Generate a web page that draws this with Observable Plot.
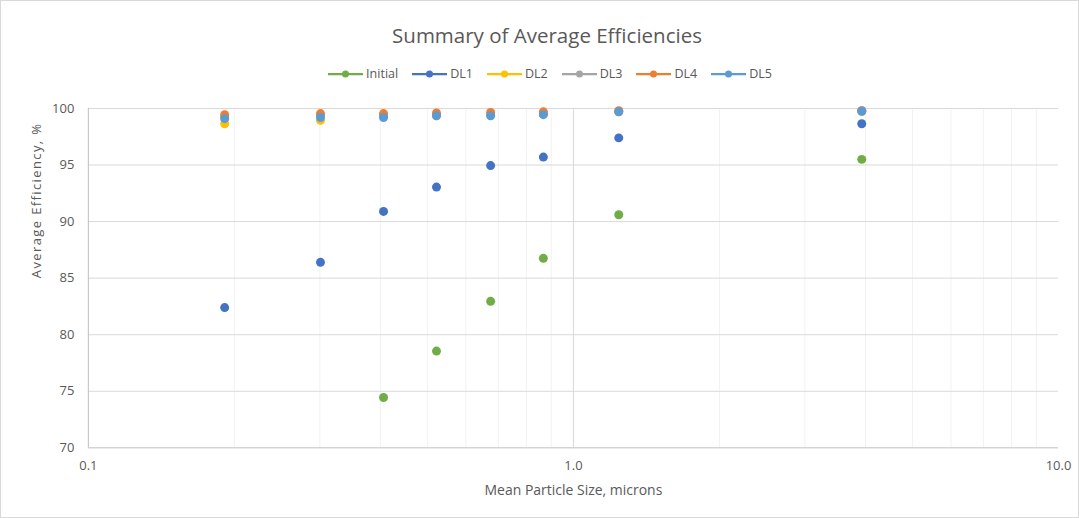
<!DOCTYPE html>
<html>
<head>
<meta charset="utf-8">
<script src="https://cdn.jsdelivr.net/npm/d3@7"></script>
<script src="https://cdn.jsdelivr.net/npm/@observablehq/plot@0.6"></script>
<style>
  html, body { margin: 0; padding: 0; background: #fff; }
  #chart { position: relative; width: 1077px; height: 516px; border: 1px solid #d9d9d9; font-family: "Open Sans", "Noto Sans", sans-serif; color: #595959; overflow: hidden; }
  #title { position: absolute; left: 0; width: 1092px; top: 20px; text-align: center; font-size: 20.5px; line-height: 28px; }
  #legend { position: absolute; left: 0; width: 1098px; top: 64px; display: flex; justify-content: center; gap: 14px; font-size: 12.5px; line-height: 18px; }
  #legend .item { display: flex; align-items: center; gap: 3px; }
  #plot { position: absolute; left: -1px; top: 90px; }
</style>
</head>
<body>
<div id="chart">
  <div id="title">Summary of Average Efficiencies</div>
  <div id="legend"></div>
  <div id="plot"></div>
</div>
<script>
const sizes   = [0.191, 0.301, 0.406, 0.522, 0.675, 0.867, 1.24, 3.93];
const initial = [null, null, 74.45, 78.55, 82.95, 86.75, 90.6, 95.5];
const dl1     = [82.4, 86.4, 90.9, 93.05, 94.95, 95.7, 97.4, 98.65];
const dl2     = [98.65, 98.95, 99.3, 99.35, 99.4, 99.5, 99.7, 99.75];
const dl3     = [99.3, 99.4, 99.4, 99.45, 99.5, 99.6, 99.75, 99.8];
const dl4     = [99.45, 99.55, 99.55, 99.6, 99.65, 99.7, 99.8, 99.8];
const dl5     = [99.1, 99.2, 99.2, 99.35, 99.35, 99.45, 99.7, 99.75];

const seriesNames  = ["Initial", "DL1", "DL2", "DL3", "DL4", "DL5"];
const seriesValues = [initial, dl1, dl2, dl3, dl4, dl5];
const seriesColors = ["#70AD47", "#4472C4", "#FFC000", "#A5A5A5", "#ED7D31", "#5B9BD5"];

const yTicks = [70, 75, 80, 85, 90, 95, 100];
const xTicks = [0.1, 1, 10];
const xMinor = [0.2, 0.3, 0.4, 0.5, 0.6, 0.7, 0.8, 0.9, 2, 3, 4, 5, 6, 7, 8, 9];

const yLabel = "Average Efficiency, %";
const xLabel = "Mean Particle Size, microns";

const data = [];
seriesNames.forEach((name, i) => {
  sizes.forEach((s, j) => {
    const v = seriesValues[i][j];
    if (v != null) data.push({series: name, x: s, y: v});
  });
});

// legend
const legend = document.getElementById("legend");
seriesNames.forEach((name, i) => {
  const item = document.createElement("div");
  item.className = "item";
  item.innerHTML = `<svg width="35" height="10"><line x1="0" y1="5" x2="35" y2="5" stroke="${seriesColors[i]}" stroke-width="2.25"/><circle cx="17.5" cy="5" r="3.5" fill="${seriesColors[i]}"/></svg><span>${name}</span>`;
  legend.appendChild(item);
});

const plot = Plot.plot({
  width: 1080,
  height: 425,
  marginLeft: 88,
  marginRight: 20,
  marginTop: 17,
  marginBottom: 68,
  style: { fontFamily: "'Open Sans', 'Noto Sans', sans-serif", fontSize: "13px", color: "#595959", background: "white" },
  x: { type: "log", domain: [0.1, 10], ticks: xTicks, tickFormat: d3.format(".1f"), tickSize: 0, tickPadding: 13, label: null },
  y: { domain: [70, 100], ticks: yTicks, tickSize: 0, tickPadding: 14, label: null },
  color: { domain: seriesNames, range: seriesColors },
  marks: [
    Plot.ruleX(xMinor, { stroke: "#f2f2f2", strokeWidth: 1 }),
    Plot.ruleY(yTicks.filter(d => d > 70), { stroke: "#d9d9d9", strokeWidth: 1 }),
    Plot.ruleX([1], { stroke: "#d9d9d9", strokeWidth: 1 }),
    Plot.ruleX([0.1], { stroke: "#bfbfbf", strokeWidth: 1 }),
    Plot.ruleY([70], { stroke: "#bfbfbf", strokeWidth: 1 }),
    Plot.axisX({ ticks: xTicks, tickFormat: d3.format(".1f"), tickSize: 0, tickPadding: 13, label: null }),
    Plot.axisY({ ticks: yTicks, tickSize: 0, tickPadding: 14, label: null }),
    Plot.dot(data, { x: "x", y: "y", fill: "series", r: 4.5, stroke: "none" }),
    Plot.text([yLabel], { frameAnchor: "left", dx: -52, rotate: -90, fontSize: 13, fill: "#595959" }),
    Plot.text([xLabel], { frameAnchor: "bottom", dy: 47, fontSize: 14, fill: "#595959" })
  ]
});
// letter spacing for y label
plot.querySelectorAll("text").forEach(t => { if (t.textContent === yLabel) t.setAttribute("letter-spacing", "1.4"); });
document.getElementById("plot").appendChild(plot);
</script>
</body>
</html>
